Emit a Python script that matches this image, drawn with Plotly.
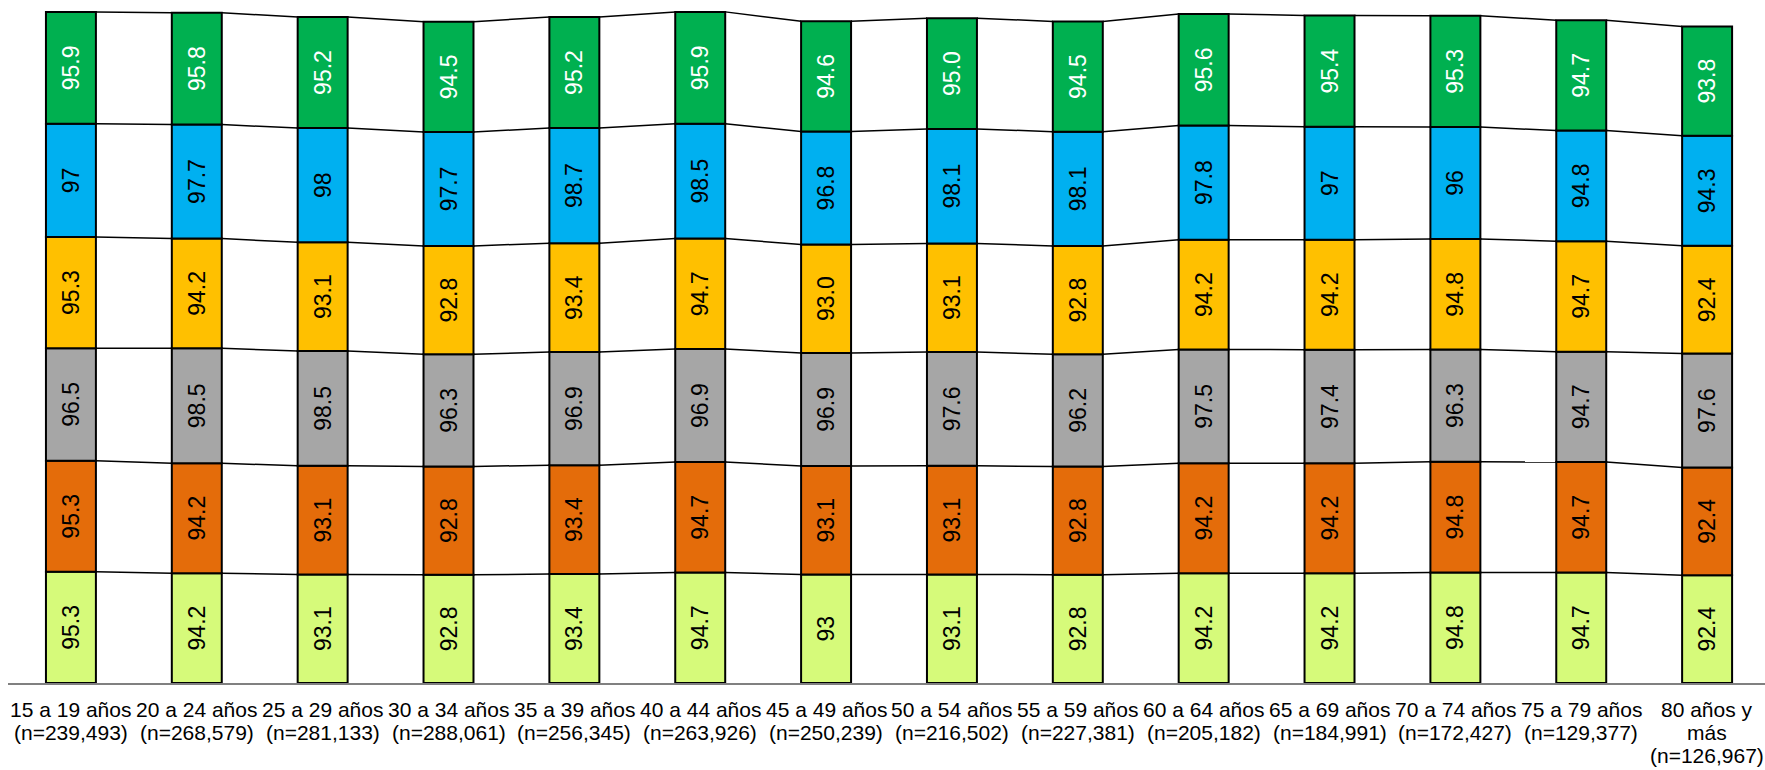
import plotly.graph_objects as go

# Age groups (x categories)
categories = [
    "15 a 19 años<br>(n=239,493)",
    "20 a 24 años<br>(n=268,579)",
    "25 a 29 años<br>(n=281,133)",
    "30 a 34 años<br>(n=288,061)",
    "35 a 39 años<br>(n=256,345)",
    "40 a 44 años<br>(n=263,926)",
    "45 a 49 años<br>(n=250,239)",
    "50 a 54 años<br>(n=216,502)",
    "55 a 59 años<br>(n=227,381)",
    "60 a 64 años<br>(n=205,182)",
    "65 a 69 años<br>(n=184,991)",
    "70 a 74 años<br>(n=172,427)",
    "75 a 79 años<br>(n=129,377)",
    "80 años y<br>más<br>(n=126,967)",
]

# Stacked series, bottom to top; labels as printed on each segment
lime_labels = ["95.3", "94.2", "93.1", "92.8", "93.4", "94.7", "93", "93.1", "92.8", "94.2", "94.2", "94.8", "94.7", "92.4"]
orange_labels = ["95.3", "94.2", "93.1", "92.8", "93.4", "94.7", "93.1", "93.1", "92.8", "94.2", "94.2", "94.8", "94.7", "92.4"]
gray_labels = ["96.5", "98.5", "98.5", "96.3", "96.9", "96.9", "96.9", "97.6", "96.2", "97.5", "97.4", "96.3", "94.7", "97.6"]
gold_labels = ["95.3", "94.2", "93.1", "92.8", "93.4", "94.7", "93.0", "93.1", "92.8", "94.2", "94.2", "94.8", "94.7", "92.4"]
blue_labels = ["97", "97.7", "98", "97.7", "98.7", "98.5", "96.8", "98.1", "98.1", "97.8", "97", "96", "94.8", "94.3"]
green_labels = ["95.9", "95.8", "95.2", "94.5", "95.2", "95.9", "94.6", "95.0", "94.5", "95.6", "95.4", "95.3", "94.7", "93.8"]

series = [
    (lime_labels, "#D6FA7A", "black"),
    (orange_labels, "#E46C0A", "black"),
    (gray_labels, "#A6A6A6", "black"),
    (gold_labels, "#FFC000", "black"),
    (blue_labels, "#00B0F0", "black"),
    (green_labels, "#00B050", "white"),
]

FONT = "Liberation Sans, Arial, sans-serif"
BAR_W = 0.397
xs = list(range(len(categories)))

fig = go.Figure()

cum = [0.0] * len(categories)
tops = []
for labels, color, txtcolor in series:
    vals = [float(s) for s in labels]
    fig.add_trace(go.Bar(
        x=xs, y=vals, base=cum[:], width=BAR_W,
        marker=dict(color=color, line=dict(color="black", width=2)),
        text=labels, textposition="inside", insidetextanchor="middle",
        textangle=-90, constraintext="none",
        textfont=dict(family=FONT, size=23, color=txtcolor),
        hoverinfo="skip", showlegend=False,
    ))
    cum = [c + v for c, v in zip(cum, vals)]
    tops.append(cum[:])

# Series lines joining the top of each segment between neighbouring bars
for top in tops:
    lx, ly = [], []
    for i in range(len(categories) - 1):
        lx += [i + BAR_W / 2, i + 1 - BAR_W / 2, None]
        ly += [top[i], top[i + 1], None]
    fig.add_trace(go.Scatter(
        x=lx, y=ly, mode="lines", line=dict(color="black", width=1.5),
        hoverinfo="skip", showlegend=False,
    ))

# Category labels below the axis, one annotation per text line for tight spacing
LINE_STEP = 23
for i, cat in enumerate(categories):
    for j, line in enumerate(cat.split("<br>")):
        fig.add_annotation(
            x=i, y=0, xref="x", yref="y", text=line, showarrow=False,
            xanchor="center", yanchor="top", yshift=-13 - j * LINE_STEP,
            font=dict(family=FONT, size=21, color="black"),
        )

fig.update_layout(
    width=1765, height=770,
    margin=dict(l=8, r=0, t=5, b=87),
    barmode="overlay",
    plot_bgcolor="white", paper_bgcolor="white",
    font=dict(family=FONT, color="black"),
    xaxis=dict(
        range=[-0.5, 13.46], tickmode="array", tickvals=xs, showticklabels=False,
        showline=True, linecolor="#808080", linewidth=2,
        showgrid=False, zeroline=False, ticks="",
    ),
    yaxis=dict(range=[0, 581.3], visible=False, showgrid=False, zeroline=False),
)

fig.write_html("out.html")
